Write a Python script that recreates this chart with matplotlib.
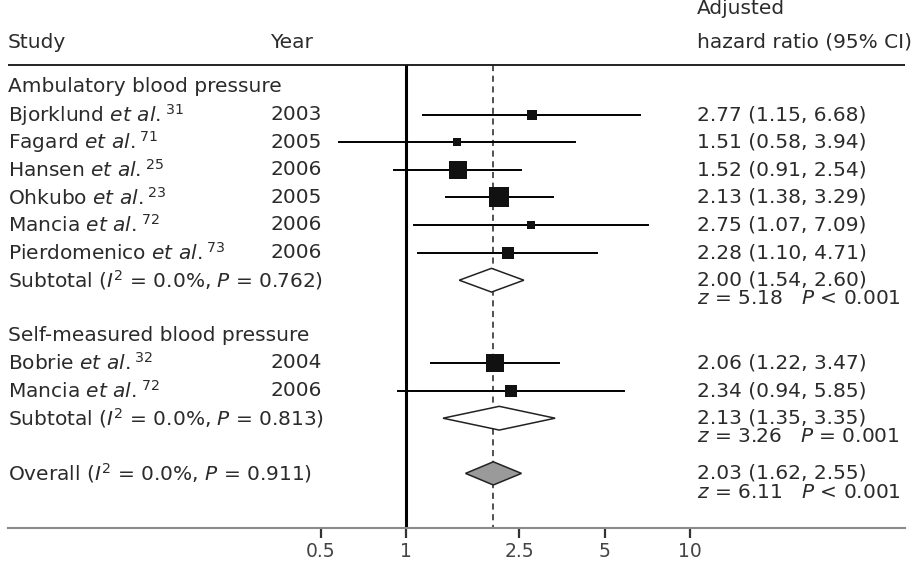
import matplotlib.pyplot as plt
import matplotlib.transforms as mtransforms
import numpy as np

plt.rcParams['font.family'] = ['DejaVu Sans']
plt.rcParams['mathtext.fontset'] = 'dejavusans'

# study level data
studies = ['Bjorklund', 'Fagard', 'Hansen', 'Ohkubo', 'Mancia', 'Pierdomenico', 'Bobrie', 'Mancia']
refs = ['31', '71', '25', '23', '72', '73', '32', '72']
years = [2003, 2005, 2006, 2005, 2006, 2006, 2004, 2006]
groups = [0, 0, 0, 0, 0, 0, 1, 1]
hr = [2.77, 1.51, 1.52, 2.13, 2.75, 2.28, 2.06, 2.34]
lo = [1.15, 0.58, 0.91, 1.38, 1.07, 1.10, 1.22, 0.94]
hi = [6.68, 3.94, 2.54, 3.29, 7.09, 4.71, 3.47, 5.85]
weight = [6.4, 4.1, 20.7, 25.6, 4.1, 9.2, 20.7, 9.2]

# subgroup / overall data
group_names = ['Ambulatory blood pressure', 'Self-measured blood pressure']
sub_hr = [2.00, 2.13]
sub_lo = [1.54, 1.35]
sub_hi = [2.60, 3.35]
sub_p_het = ['0.762', '0.813']
sub_z = ['5.18', '3.26']
sub_p = ['< 0.001', '= 0.001']
overall = [2.03, 1.62, 2.55]
overall_p_het = '0.911'
overall_z = '6.11'
overall_p = '< 0.001'

ticks = [0.5, 1, 2.5, 5, 10]

txt_col = '#2b2b2b'
fs = 14.5

fig = plt.figure(figsize=(9.22, 5.61), dpi=100)
W, H = 922, 561
# axes spans from the left text column to the right edge, bottom spine is the x axis
ax = fig.add_axes([8 / W, 1 - 528 / H, (905 - 8) / W, 528 / H])
ax.set_xscale('log')
ax.set_xlim(10 ** ((8 - 406) / 284), 10 ** ((905 - 406) / 284))
row_px, row0 = 27.6, 87
ax.set_ylim((528 - row0) / row_px, (0 - row0) / row_px)
for s in ['left', 'right', 'top']:
    ax.spines[s].set_visible(False)
ax.spines['bottom'].set_color('#8a8a8a')
ax.spines['bottom'].set_linewidth(1.5)
ax.set_yticks([])
ax.set_xticks(ticks)
ax.set_xticklabels([str(t) for t in ticks])
ax.xaxis.set_minor_locator(plt.NullLocator())
ax.tick_params(axis='x', length=7, width=1.6, color='#333333', labelsize=13.5,
               labelcolor='#444444', pad=3)

trans = mtransforms.blended_transform_factory(fig.transFigure, ax.transData)
x_study, x_year, x_est = 8 / W, 322 / W, 697 / W

top_line = (65 - row0) / row_px
ybot = ax.get_ylim()[0]
ax.axhline(top_line, color='#222222', lw=1.4)
ax.vlines(1, top_line, ybot, color='black', lw=2.2)
ax.vlines(overall[0], top_line, ybot, color='#222222', lw=1.1, linestyles=(0, (4, 3)))

# headers
ax.text(x_study, -1.63, 'Study', transform=trans, fontsize=fs, color=txt_col, va='center')
ax.text(270 / W, -1.63, 'Year', transform=trans, fontsize=fs, color=txt_col, va='center')
ax.text(x_est, -1.63, 'hazard ratio (95% CI)', transform=trans, fontsize=fs, color=txt_col, va='center')
ax.text(x_est, -2.85, 'Adjusted', transform=trans, fontsize=fs, color=txt_col, va='center')


def est_text(h, l, u):
    return f'{h:.2f} ({l:.2f}, {u:.2f})'


row = 0
for g, gname in enumerate(group_names):
    ax.text(x_study, row, gname, transform=trans, fontsize=fs, color=txt_col, va='center')
    row += 1
    for i in range(len(studies)):
        if groups[i] != g:
            continue
        ax.plot([lo[i], hi[i]], [row, row], color='black', lw=1.4)
        side = 3.95 * np.sqrt(weight[i]) * 0.72
        ax.plot(hr[i], row, marker='s', color='#111111', markersize=side, markeredgewidth=0)
        ax.text(x_study, row, studies[i] + r' $\mathit{et\ al.}^{' + refs[i] + '}$',
                transform=trans, fontsize=fs, color=txt_col, va='center')
        ax.text(x_year, row, str(years[i]), transform=trans, fontsize=fs, color=txt_col,
                va='center', ha='right')
        ax.text(x_est, row, est_text(hr[i], lo[i], hi[i]), transform=trans, fontsize=fs,
                color=txt_col, va='center')
        row += 1
    h = 0.43
    ax.fill([sub_lo[g], sub_hr[g], sub_hi[g], sub_hr[g]], [row, row - h, row, row + h],
            facecolor='white', edgecolor='#222222', lw=1.1, zorder=3)
    ax.text(x_study, row, r'Subtotal ($I^2$ = 0.0%, $P$ = ' + sub_p_het[g] + ')',
            transform=trans, fontsize=fs, color=txt_col, va='center')
    ax.text(x_est, row, est_text(sub_hr[g], sub_lo[g], sub_hi[g]), transform=trans,
            fontsize=fs, color=txt_col, va='center')
    ax.text(x_est, row + 0.68, r'$z$ = ' + sub_z[g] + r'   $P$ ' + sub_p[g], transform=trans,
            fontsize=fs, color=txt_col, va='center')
    row += 2

# overall
h = 0.42
ax.fill([overall[1], overall[0], overall[2], overall[0]], [row, row - h, row, row + h],
        facecolor='#9a9a9a', edgecolor='#222222', lw=1.1, zorder=3)
ax.text(x_study, row, r'Overall ($I^2$ = 0.0%, $P$ = ' + overall_p_het + ')',
        transform=trans, fontsize=fs, color=txt_col, va='center')
ax.text(x_est, row, est_text(*overall), transform=trans, fontsize=fs, color=txt_col, va='center')
ax.text(x_est, row + 0.68, r'$z$ = ' + overall_z + r'   $P$ ' + overall_p, transform=trans,
        fontsize=fs, color=txt_col, va='center')

fig.savefig('out.png', dpi=100)
